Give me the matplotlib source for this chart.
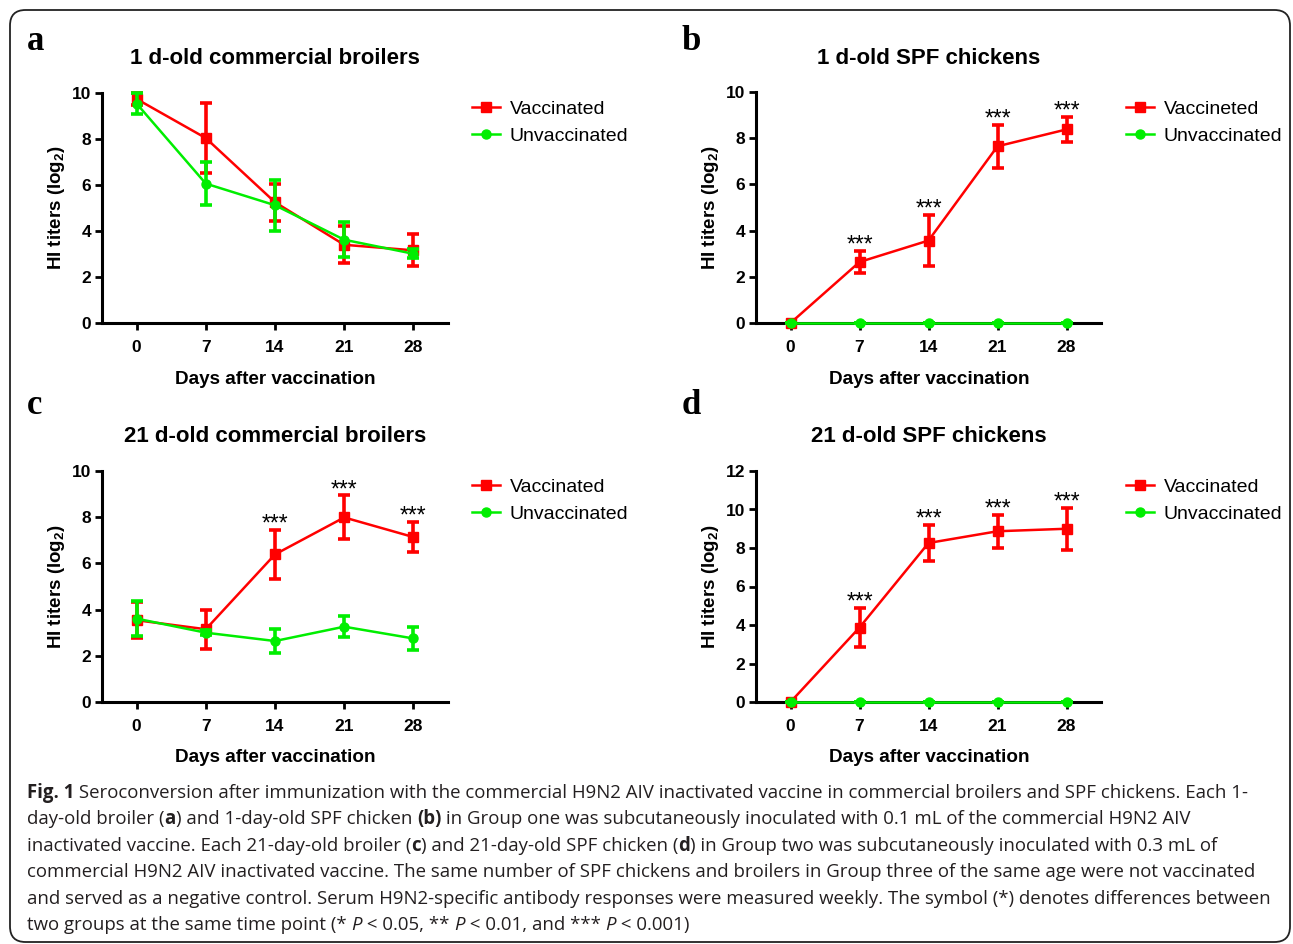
import matplotlib
matplotlib.use("Agg")
import matplotlib.pyplot as plt
from matplotlib.patches import FancyBboxPatch
from matplotlib.lines import Line2D

# ---------------- data ----------------
days = [0, 7, 14, 21, 28]

a_vac = [9.74, 8.04, 5.25, 3.40, 3.16]
a_vac_err = [0.28, 1.52, 0.80, 0.80, 0.70]
a_unv = [9.54, 6.06, 5.12, 3.62, 3.01]
a_unv_err = [0.45, 0.95, 1.10, 0.75, 0.20]

b_vac = [0.0, 2.64, 3.57, 7.65, 8.38]
b_vac_err = [0.0, 0.47, 1.12, 0.92, 0.55]
b_unv = [0.0, 0.0, 0.0, 0.0, 0.0]
b_unv_err = [0.0, 0.0, 0.0, 0.0, 0.0]

c_vac = [3.54, 3.15, 6.39, 7.99, 7.14]
c_vac_err = [0.78, 0.85, 1.07, 0.95, 0.65]
c_unv = [3.61, 3.00, 2.64, 3.26, 2.75]
c_unv_err = [0.77, 0.10, 0.52, 0.45, 0.48]

d_vac = [0.0, 3.87, 8.26, 8.87, 9.00]
d_vac_err = [0.0, 1.00, 0.92, 0.85, 1.09]
d_unv = [0.0, 0.0, 0.0, 0.0, 0.0]
d_unv_err = [0.0, 0.0, 0.0, 0.0, 0.0]

b_sig = [7, 14, 21, 28]
c_sig = [14, 21, 28]
d_sig = [7, 14, 21, 28]

titles = ["1 d-old commercial broilers", "1 d-old SPF chickens",
          "21 d-old commercial broilers", "21 d-old SPF chickens"]
panel_letters = ["a", "b", "c", "d"]
legend_vac = ["Vaccinated", "Vaccineted", "Vaccinated", "Vaccinated"]
legend_unv = "Unvaccinated"
xlabel = "Days after vaccination"
ylabel = "HI titers (log$_2$)"

caption_lines = [
    [("Fig. 1", "bold", "normal"), (" Seroconversion after immunization with the commercial H9N2 AIV inactivated vaccine in commercial broilers and SPF chickens. Each 1-", "normal", "normal")],
    [("day-old broiler (", "normal", "normal"), ("a", "bold", "normal"), (") and 1-day-old SPF chicken ", "normal", "normal"), ("(b)", "bold", "normal"), (" in Group one was subcutaneously inoculated with 0.1 mL of the commercial H9N2 AIV", "normal", "normal")],
    [("inactivated vaccine. Each 21-day-old broiler (", "normal", "normal"), ("c", "bold", "normal"), (") and 21-day-old SPF chicken (", "normal", "normal"), ("d", "bold", "normal"), (") in Group two was subcutaneously inoculated with 0.3 mL of", "normal", "normal")],
    [("commercial H9N2 AIV inactivated vaccine. The same number of SPF chickens and broilers in Group three of the same age were not vaccinated", "normal", "normal")],
    [("and served as a negative control. Serum H9N2-specific antibody responses were measured weekly. The symbol (*) denotes differences between", "normal", "normal")],
    [("two groups at the same time point (* ", "normal", "normal"), ("P", "normal", "italic"), (" < 0.05, ** ", "normal", "normal"), ("P", "normal", "italic"), (" < 0.01, and *** ", "normal", "normal"), ("P", "normal", "italic"), (" < 0.001)", "normal", "normal")],
]

# ---------------- figure ----------------
W, H = 1293, 944
fig = plt.figure(figsize=(W / 100, H / 100), dpi=100)
plt.rcParams['font.family'] = ['Liberation Sans', 'DejaVu Sans']
plt.rcParams['mathtext.fontset'] = 'custom'
plt.rcParams['mathtext.rm'] = 'Liberation Sans:bold'

RED = "#ff0000"
GREEN = "#00ee00"

def fx(px):
    return px / W

def fy(py):
    return 1 - py / H

# frame around the figure
frame = FancyBboxPatch((fx(10), fy(942)), fx(1290) - fx(10), fy(10) - fy(942),
                       boxstyle="round,pad=0,rounding_size=0.012",
                       transform=fig.transFigure, fill=False, ec="#222222", lw=1.3,
                       mutation_aspect=W / H)
fig.add_artist(frame)

panels = [
    dict(vac=a_vac, ve=a_vac_err, unv=a_unv, ue=a_unv_err, sig=[], ymax=10,
         rect=(102, 93, 448, 323), left=True, top=True),
    dict(vac=b_vac, ve=b_vac_err, unv=b_unv, ue=b_unv_err, sig=b_sig, ymax=10,
         rect=(756, 92, 1101, 323), left=False, top=True),
    dict(vac=c_vac, ve=c_vac_err, unv=c_unv, ue=c_unv_err, sig=c_sig, ymax=10,
         rect=(102, 471, 448, 702), left=True, top=False),
    dict(vac=d_vac, ve=d_vac_err, unv=d_unv, ue=d_unv_err, sig=d_sig, ymax=12,
         rect=(756, 471, 1101, 702), left=False, top=False),
]

for i, p in enumerate(panels):
    x0, y0, x1, y1 = p["rect"]
    ax = fig.add_axes([fx(x0), fy(y1), fx(x1) - fx(x0), fy(y0) - fy(y1)])
    ax.set_xlim(-3.5, 31.5)
    ax.set_ylim(0, p["ymax"])
    ax.set_xticks(days)
    ax.set_yticks(range(0, p["ymax"] + 1, 2))
    for s in ["top", "right"]:
        ax.spines[s].set_visible(False)
    for s in ["left", "bottom"]:
        ax.spines[s].set_linewidth(2.2)
    ax.tick_params(width=2, length=5, labelsize=12.5, pad=3)
    for lab in ax.get_xticklabels() + ax.get_yticklabels():
        lab.set_fontweight("bold")
    ax.tick_params(axis="x", pad=7)

    ax.errorbar(days, p["vac"], yerr=p["ve"], color=RED, marker="s", ms=7.5,
                lw=1.8, elinewidth=2.6, capsize=4.2, capthick=2.6, clip_on=False,
                zorder=3, label=legend_vac[i])
    ax.errorbar(days, p["unv"], yerr=p["ue"], color=GREEN, marker="o", ms=6.5,
                lw=1.8, elinewidth=2.6, capsize=4.2, capthick=2.6, clip_on=False,
                zorder=4, label=legend_unv)

    for d in p["sig"]:
        k = days.index(d)
        ax.annotate("***", (d, p["vac"][k] + p["ve"][k]), xytext=(0, -4),
                    textcoords="offset points", ha="center", va="bottom",
                    fontsize=16.5)

    ax.set_ylabel(ylabel, fontsize=13.5, fontweight="bold")
    lab_x = 67 if p["left"] else 721
    ax.yaxis.set_label_coords((lab_x - x0) / (x1 - x0), 0.5)

    # legend
    handles = [Line2D([], [], color=RED, marker="s", ms=7.5, lw=1.8),
               Line2D([], [], color=GREEN, marker="o", ms=6.5, lw=1.8)]
    lx = 472 if p["left"] else 1126
    ly = 100 if p["top"] else 478
    ax.legend(handles, [legend_vac[i], legend_unv], loc="upper left",
              bbox_to_anchor=(fx(lx), fy(ly)), bbox_transform=fig.transFigure,
              frameon=False, fontsize=14, handlelength=1.45, handletextpad=0.5,
              labelspacing=0.48, borderpad=0, borderaxespad=0)

    cx = 275 if p["left"] else 929
    ty = 58 if p["top"] else 437
    xy = 379 if p["top"] else 758
    fig.text(fx(cx), fy(ty), titles[i], ha="center", va="center",
             fontsize=16, fontweight="bold")
    fig.text(fx(cx), fy(xy), xlabel, ha="center", va="center",
             fontsize=13.6, fontweight="bold")
    lxp = 27 if p["left"] else 682
    lyp = 42 if p["top"] else 405
    fig.text(fx(lxp), fy(lyp), panel_letters[i], ha="left", va="center",
             fontsize=25, fontweight="bold", family="Liberation Serif")

# ---------------- caption ----------------
renderer = fig.canvas.get_renderer()
cap_font = ["Open Sans", "DejaVu Sans"]
# choose font size so the first line spans the reference width
probe = fig.text(0, 0, "".join(s for s, _, _ in caption_lines[0]), fontsize=10,
                 family=cap_font)
wpx = probe.get_window_extent(renderer).width
probe.remove()
cap_size = 10 * (1245 - 27) / wpx

y_px = 793
for line in caption_lines:
    x_px = 27
    for seg, weight, style in line:
        t = fig.text(fx(x_px), fy(y_px), seg, fontsize=cap_size, family=cap_font,
                     fontweight=weight, fontstyle=style, color="#231f20",
                     ha="left", va="center")
        x_px += t.get_window_extent(renderer).width
    y_px += 26.4

fig.savefig("out.png", dpi=100)
